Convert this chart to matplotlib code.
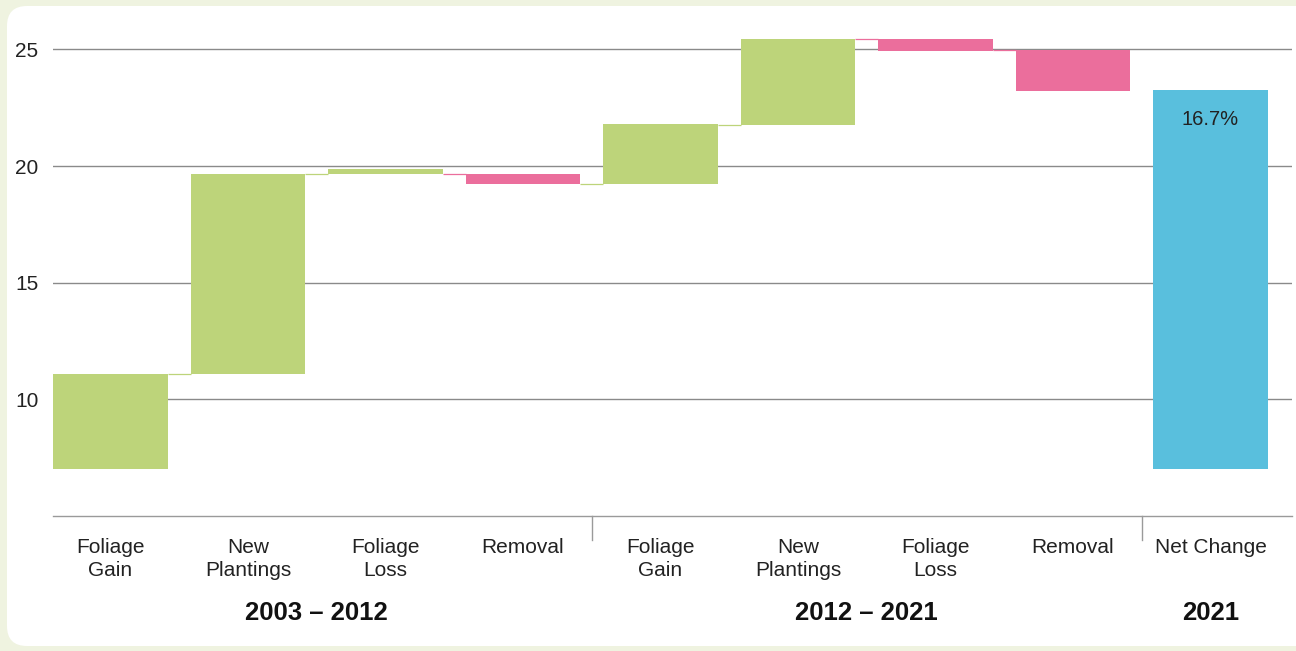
import matplotlib
matplotlib.use("Agg")
import matplotlib.pyplot as plt
from matplotlib.patches import FancyBboxPatch
from matplotlib import font_manager

# ---------------- data ----------------
categories = ["Foliage\nGain", "New\nPlantings", "Foliage\nLoss", "Removal",
              "Foliage\nGain", "New\nPlantings", "Foliage\nLoss", "Removal",
              "Net Change"]
bar_start = [7.0, 11.07, 19.64, 19.64, 19.22, 21.77, 25.43, 24.98, 7.0]
bar_end = [11.07, 19.64, 19.86, 19.21, 21.79, 25.43, 24.91, 23.21, 23.24]
bar_kind = ["up", "up", "up", "down", "up", "up", "down", "down", "total"]
group_labels = ["2003 – 2012", "2012 – 2021", "2021"]
group_spans = [(0, 3), (4, 7), (8, 8)]
group_separators = [3.5, 7.5]
net_label = "16.7%"
y_ticks = [10, 15, 20, 25]

# ---------------- style ----------------
colors = {"up": "#bdd47a", "down": "#eb6e9c", "total": "#59bfdd"}
outer_bg = "#eff3e0"

available = {f.name for f in font_manager.fontManager.ttflist}
family = "Liberation Sans" if "Liberation Sans" in available else "DejaVu Sans"
plt.rcParams["font.family"] = [family, "DejaVu Sans"]

W, H = 1296, 651
fig = plt.figure(figsize=(W / 100, H / 100), dpi=100)
fig.patch.set_facecolor(outer_bg)

# background panel
bg = fig.add_axes([0, 0, 1, 1], zorder=-10)
bg.set_xlim(0, W)
bg.set_ylim(0, H)
bg.axis("off")
bg.add_patch(FancyBboxPatch((7, H - 646), 1400, 640,
                            boxstyle="round,pad=0,rounding_size=20",
                            facecolor="white", edgecolor="none"))

# main axes
left_px, right_px, bottom_px, top_px = 53, 1292, 516, 9.7
ax = fig.add_axes([left_px / W, (H - bottom_px) / H,
                   (right_px - left_px) / W, (bottom_px - top_px) / H])
ax.set_facecolor("none")
width = 0.836
ax.set_xlim(-width / 2, -width / 2 + (right_px - left_px) / 137.5)
ax.set_ylim(5, 26.7)

# gridlines
ax.set_yticks(y_ticks)
ax.yaxis.grid(True, color="#8a8a8a", lw=1.0, zorder=0)
ax.set_axisbelow(True)
ax.tick_params(axis="y", length=0, pad=10.5, labelsize=15, labelcolor="#222222")
ax.set_xticks([])
for s in ["top", "right", "left"]:
    ax.spines[s].set_visible(False)
ax.spines["bottom"].set_color("#9a9a9a")
ax.spines["bottom"].set_linewidth(1.0)

# bars
n = len(categories)
for i in range(n):
    lo = min(bar_start[i], bar_end[i])
    hi = max(bar_start[i], bar_end[i])
    ax.bar(i, hi - lo, bottom=lo, width=width, color=colors[bar_kind[i]],
           linewidth=0, zorder=2)
    # connector from previous bar
    if i > 0 and bar_kind[i] != "total":
        ax.plot([i - 1 + width / 2, i - width / 2], [bar_start[i], bar_start[i]],
                color=colors[bar_kind[i]], lw=0.9, zorder=2,
                solid_capstyle="butt")

# net change label
ax.annotate(net_label, (n - 1, bar_end[-1]), xytext=(0, -14),
            textcoords="offset points", ha="center", va="top",
            fontsize=14.5, color="#222222")

# category labels
xt = ax.get_xaxis_transform()
ax_h_px = bottom_px - top_px
for i, lab in enumerate(categories):
    ax.text(i, -22 / ax_h_px, lab, transform=xt, ha="center", va="top",
            fontsize=15, color="#222222", linespacing=1.24)

# group labels
for lab, (a, b) in zip(group_labels, group_spans):
    ax.text((a + b) / 2, -97 / ax_h_px, lab, transform=xt, ha="center",
            va="center", fontsize=18.5, fontweight="bold", color="#111111")

# group separators
for xs in group_separators:
    ax.plot([xs, xs], [0, -24 / ax_h_px], transform=xt, color="#9a9a9a",
            lw=1.0, clip_on=False)

fig.savefig("out.png", dpi=100, facecolor=fig.get_facecolor())
